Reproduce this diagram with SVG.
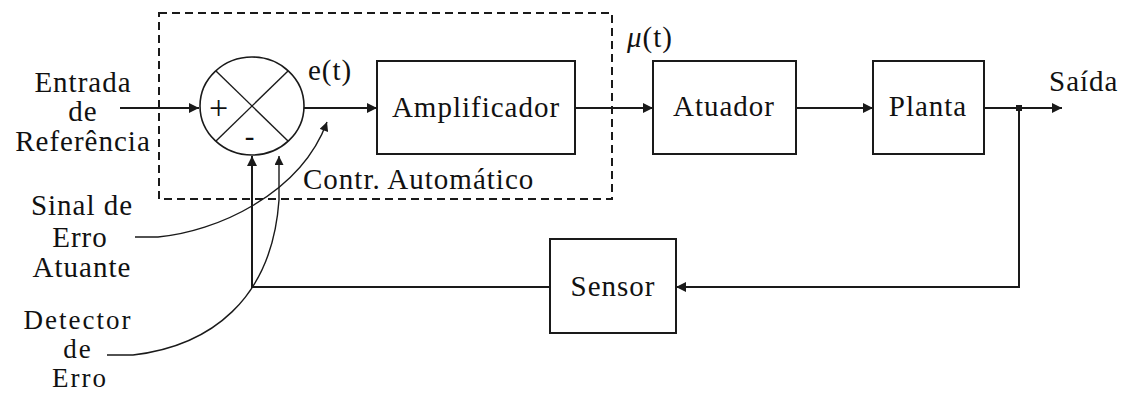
<svg xmlns="http://www.w3.org/2000/svg" width="1132" height="394" viewBox="0 0 1132 394">
  <style>
    .lbl { font-family: "Liberation Serif", "Times New Roman", serif; font-size: 29px; letter-spacing: 1px; fill: #111; }
    .lbl.tight { font-size: 27px; letter-spacing: 2px; }
    .lbl.sign { font-size: 34px; }
    .mid { text-anchor: middle; }
    .box { fill: #fff; stroke: #1a1a1a; stroke-width: 2; }
    .wire { fill: none; stroke: #1a1a1a; stroke-width: 2; }
    .thin { fill: none; stroke: #1a1a1a; stroke-width: 1.4; }
    .dash { fill: none; stroke: #1a1a1a; stroke-width: 2; stroke-dasharray: 8 5; }
  </style>
  <defs>
    <marker id="arrow" viewBox="0 0 10 10" refX="10" refY="5" markerWidth="10" markerHeight="10" markerUnits="userSpaceOnUse" orient="auto">
      <path d="M0,0 L10,5 L0,10 Z" fill="#1a1a1a"/>
    </marker>
    <marker id="arrowSmall" viewBox="0 0 10 10" refX="10" refY="5" markerWidth="10" markerHeight="9" markerUnits="userSpaceOnUse" orient="auto">
      <path d="M0,0 L10,5 L0,10 Z" fill="#1a1a1a"/>
    </marker>
  </defs>
  <rect width="1132" height="394" fill="#fff"/>

  <!-- automatic controller boundary -->
  <g id="controlador">
    <rect class="dash" x="159" y="13" width="453" height="186"/>
    <text class="lbl" x="303" y="189">Contr. Automático</text>
  </g>

  <!-- summing junction -->
  <g id="somador">
    <ellipse cx="252" cy="106" rx="52" ry="49" fill="#fff" stroke="#1a1a1a" stroke-width="1.6"/>
    <line class="thin" x1="216" y1="71" x2="288" y2="141"/>
    <line class="thin" x1="288" y1="71" x2="216" y2="141"/>
    <text class="lbl sign mid" x="219" y="119">+</text>
    <text class="lbl mid" x="250" y="146">-</text>
  </g>

  <g id="amplificador">
    <rect class="box" x="377" y="61" width="198" height="93"/>
    <text class="lbl mid" x="476" y="117">Amplificador</text>
  </g>

  <g id="atuador">
    <rect class="box" x="653" y="61" width="143" height="93"/>
    <text class="lbl mid" x="724" y="116">Atuador</text>
  </g>

  <g id="planta">
    <rect class="box" x="873" y="61" width="111" height="93"/>
    <text class="lbl mid" x="928" y="116">Planta</text>
  </g>

  <g id="sensor">
    <rect class="box" x="550" y="239" width="126" height="94"/>
    <text class="lbl mid" x="613" y="296">Sensor</text>
  </g>

  <!-- signal labels -->
  <g id="entrada">
    <text class="lbl mid" x="83" y="92">Entrada</text>
    <text class="lbl mid" x="83" y="121">de</text>
    <text class="lbl mid" x="83" y="151">Referência</text>
  </g>
  <g id="saida">
    <text class="lbl" x="1049" y="91">Saída</text>
  </g>
  <g id="erro">
    <text class="lbl" x="308" y="80">e(t)</text>
  </g>
  <g id="mu">
    <text class="lbl" x="627" y="47"><tspan font-style="italic">μ</tspan>(t)</text>
  </g>
  <g id="sinal-erro-atuante">
    <text class="lbl mid" x="82" y="215">Sinal de</text>
    <text class="lbl mid" x="80" y="247">Erro</text>
    <text class="lbl mid" x="82" y="277">Atuante</text>
  </g>
  <g id="detector-erro">
    <text class="lbl tight mid" x="78" y="329">Detector</text>
    <text class="lbl tight mid" x="78" y="358">de</text>
    <text class="lbl tight mid" x="80" y="387">Erro</text>
  </g>

  <!-- connectors -->
  <g id="connectors">
    <line class="wire" x1="120" y1="108" x2="199" y2="108" marker-end="url(#arrow)"/>
    <line class="wire" x1="304" y1="108" x2="377" y2="108" marker-end="url(#arrow)"/>
    <line class="wire" x1="575" y1="108" x2="653" y2="108" marker-end="url(#arrow)"/>
    <line class="wire" x1="796" y1="108" x2="873" y2="108" marker-end="url(#arrow)"/>
    <line class="wire" x1="984" y1="108" x2="1062" y2="108" marker-end="url(#arrow)"/>
    <rect x="1016" y="105" width="6" height="6" fill="#1a1a1a"/>
    <polyline class="wire" points="1019,108 1019,287 676,287" marker-end="url(#arrow)"/>
    <polyline class="wire" points="550,287 252,287 252,156" marker-end="url(#arrow)"/>
    <!-- pointer lines for annotations -->
    <path class="thin" d="M135,237 L158,237 C215,232 300,195 327,122" marker-end="url(#arrowSmall)"/>
    <path class="thin" d="M107,355 L133,355 C210,346 272,300 279,200 L279,156" marker-end="url(#arrowSmall)"/>
  </g>
</svg>
